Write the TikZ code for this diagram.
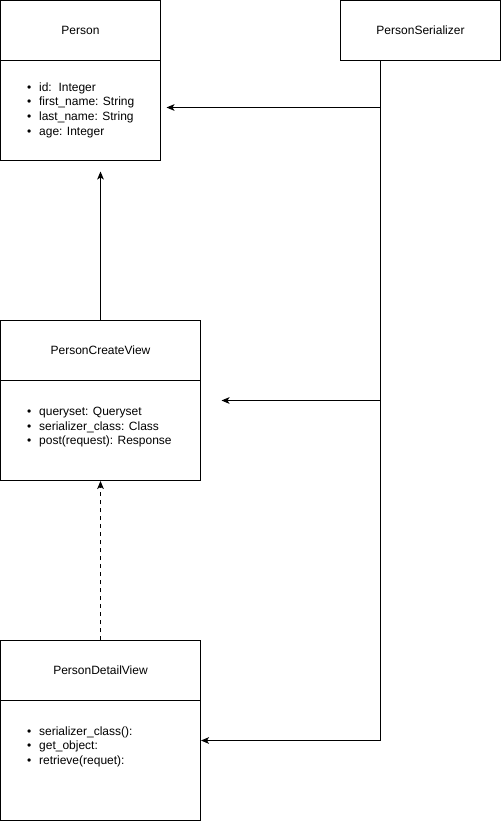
\documentclass[tikz,border=0pt]{standalone}
\usepackage{fontspec}
\setmainfont{Liberation Sans}
\usetikzlibrary{arrows.meta, shapes, positioning}
\newcommand{\itm}[1]{\makebox[9pt][l]{\textbullet}#1}

\begin{document}
\begin{tikzpicture}[x=0.75pt, y=-0.75pt, >={Stealth[length=6pt, width=5pt, inset=1.5pt]}, node distance=60pt, line width=0.75pt,
        font=\fontsize{9}{11}\selectfont,
        head/.style={rectangle, draw, minimum height=45pt, inner sep=0pt},
        body/.style={rectangle, draw, inner sep=0pt},
        attrs/.style={align=left, inner sep=0pt}]
        \useasboundingbox (-0.5,-0.5) rectangle (500.5,820.5);

        \node[head, minimum width=120pt] (person) at (80,30) {Person};
        \node[body, minimum width=120pt, minimum height=75pt, below of=person] (pbody) {};

        \node[head, minimum width=120pt] (ser) at (420,30) {PersonSerializer};

        \node[head, minimum width=150pt] (cview) at (100,350) {PersonCreateView};
        \node[body, minimum width=150pt, minimum height=75pt, below of=cview] (cbody) {};

        \node[head, minimum width=150pt] (dview) at (100,670) {PersonDetailView};
        \node[body, minimum width=150pt, minimum height=90pt, below of=dview, node distance=67.5pt] (dbody) {};

        % attribute lists
        \node[attrs, below right=16.5pt and 20pt of pbody.north west] (plist)
            {\itm{id:\ \ Integer}\\ \itm{first\_name: String}\\ \itm{last\_name: String}\\ \itm{age: Integer}};
        \node[attrs, below right=20pt and 20pt of cbody.north west] (clist)
            {\itm{queryset: Queryset}\\ \itm{serializer\_class: Class}\\ \itm{post(request): Response}};
        \node[attrs, below right=19.5pt and 20pt of dbody.north west] (dlist)
            {\itm{serializer\_class():}\\ \itm{get\_object:}\\ \itm{retrieve(requet):}};

        \coordinate (bus) at (380,60);
        \coordinate (b1) at (380,107);
        \coordinate (b2) at (380,400);
        \coordinate (b3) at (380,740);
        \coordinate (t1) at (166,107);
        \coordinate (t2) at (221,400);
        \coordinate (pup) at (100,171);

        % serializer links
        \draw (bus) -- (b3);
        \draw[->] (b1) -- (t1);
        \draw[->] (b2) -- (t2);
        \draw[->] (b3) -- (b3 -| dbody.east);

        % inheritance
        \draw[->] (cview.north) -- (pup);
        \draw[->, dashed] (dview.north) -- (cbody.south);

    \end{tikzpicture}
\end{document}
